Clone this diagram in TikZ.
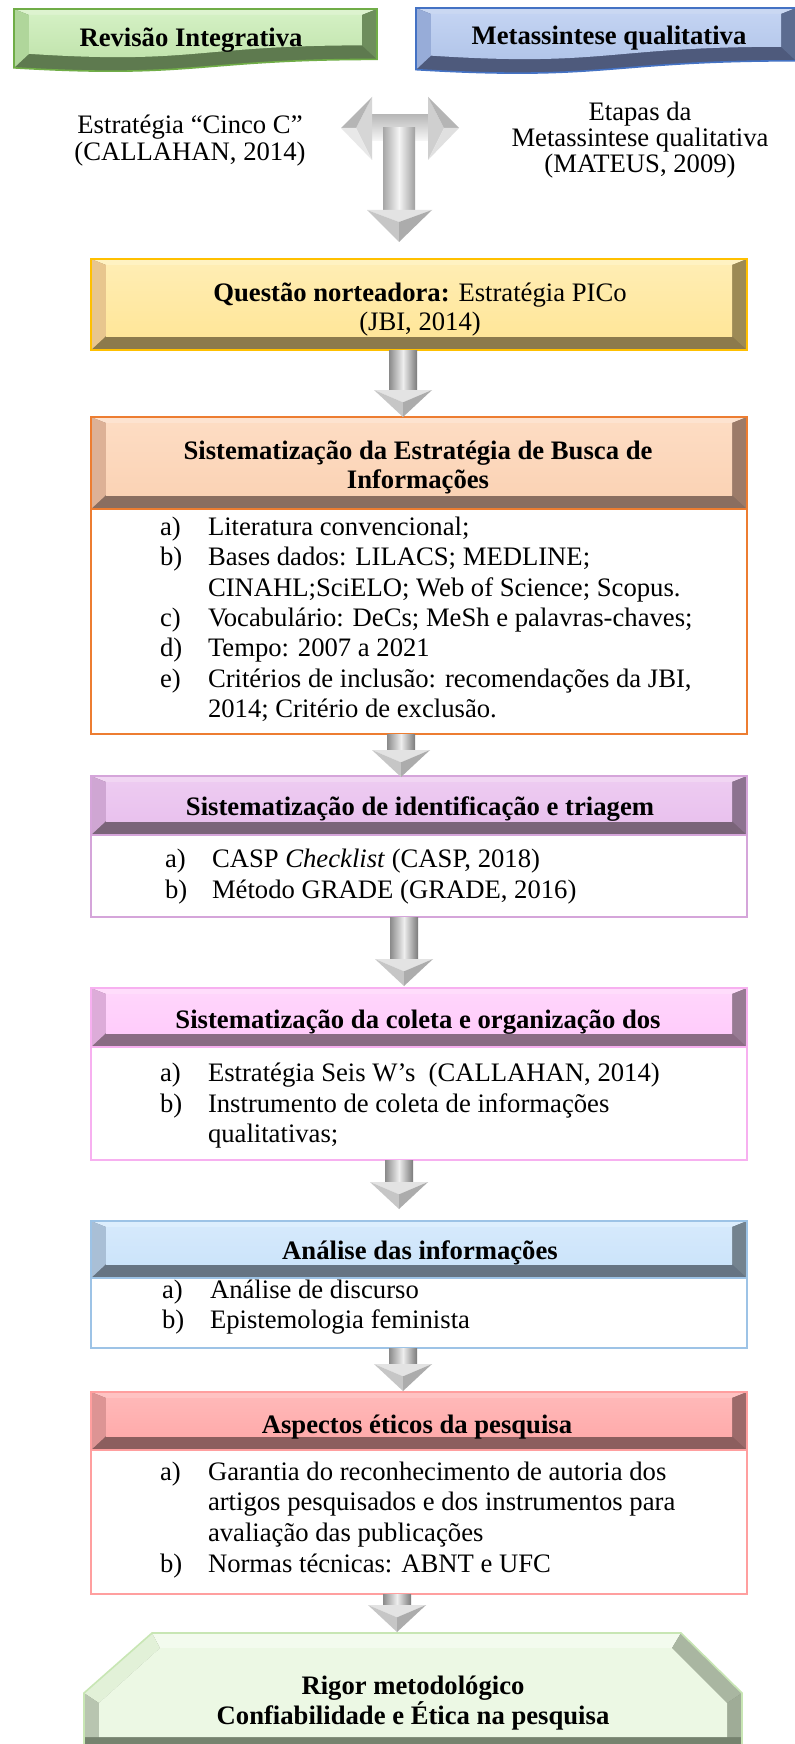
\documentclass[tikz,border=0pt]{standalone}
\usepackage{fontspec}
\setmainfont{Liberation Serif}
\usetikzlibrary{calc,fit}

\definecolor{gTface}{HTML}{BFE2AA}\definecolor{gThi}{HTML}{D3F0C3}\definecolor{gTtop}{HTML}{DDF3CF}
\definecolor{gTlt}{HTML}{B0D69B}\definecolor{gTrt}{HTML}{6E8E5D}\definecolor{gTbot}{HTML}{5E7A4F}\definecolor{gTbrd}{HTML}{70AD47}
\definecolor{bTface}{HTML}{AFC3E8}\definecolor{bThi}{HTML}{C3D3F2}\definecolor{bTtop}{HTML}{CAD8F2}
\definecolor{bTlt}{HTML}{97ACD8}\definecolor{bTrt}{HTML}{5C6C90}\definecolor{bTbot}{HTML}{4E5A7C}\definecolor{bTbrd}{HTML}{4472C4}
\definecolor{ylface}{HTML}{FFE699}\definecolor{ylhi}{HTML}{FFEDB3}\definecolor{yltop}{HTML}{FFF2C2}
\definecolor{yllt}{HTML}{E8C68E}\definecolor{ylrt}{HTML}{9C8A55}\definecolor{ylbot}{HTML}{8C7A4C}\definecolor{ylbrd}{HTML}{FFC000}
\definecolor{orface}{HTML}{FBD3B5}\definecolor{orhi}{HTML}{FDDCC3}\definecolor{ortop}{HTML}{FDE3D0}
\definecolor{orlt}{HTML}{DDB196}\definecolor{orrt}{HTML}{9C7B69}\definecolor{orbot}{HTML}{8A6E60}\definecolor{orbrd}{HTML}{ED7D31}
\definecolor{puface}{HTML}{E9C1EE}\definecolor{puhi}{HTML}{EDCBF1}\definecolor{putop}{HTML}{F1D6F3}
\definecolor{pult}{HTML}{CFA6D3}\definecolor{purt}{HTML}{8D7390}\definecolor{pubot}{HTML}{7A6479}\definecolor{pubrd}{HTML}{D5A5DA}
\definecolor{pkface}{HTML}{FFCCFB}\definecolor{pkhi}{HTML}{FFD5FB}\definecolor{pktop}{HTML}{FFDDFB}
\definecolor{pklt}{HTML}{DDACD9}\definecolor{pkrt}{HTML}{977B93}\definecolor{pkbot}{HTML}{8A6C84}\definecolor{pkbrd}{HTML}{F7B0F0}
\definecolor{blface}{HTML}{CCE4FA}\definecolor{blhi}{HTML}{D5E9FC}\definecolor{bltop}{HTML}{DDEEFD}
\definecolor{bllt}{HTML}{A9BFD6}\definecolor{blrt}{HTML}{74838F}\definecolor{blbot}{HTML}{667483}\definecolor{blbrd}{HTML}{9DC3E6}
\definecolor{rdface}{HTML}{FFABAB}\definecolor{rdhi}{HTML}{FFB8B8}\definecolor{rdtop}{HTML}{FFC3C3}
\definecolor{rdlt}{HTML}{DD9494}\definecolor{rdrt}{HTML}{9C6A6A}\definecolor{rdbot}{HTML}{8C5E5E}\definecolor{rdbrd}{HTML}{FF9F9F}
\definecolor{fnface}{HTML}{ECF8E4}\definecolor{fntop}{HTML}{F3FBEE}\definecolor{fnls}{HTML}{E2F1D8}
\definecolor{fnlt}{HTML}{B8C5B0}\definecolor{fnrs}{HTML}{A9B6A1}\definecolor{fnrt}{HTML}{9FAC97}\definecolor{fnbot}{HTML}{76836F}\definecolor{fnbrd}{HTML}{C8E6B4}
\definecolor{arrdk}{HTML}{8A8A8A}\definecolor{arrlt}{HTML}{EEEEEE}\definecolor{arrdk2}{HTML}{7A7A7A}

\def\bvW{11.25pt}\def\bvT{4.5pt}\def\bvH{10.5pt}

\newcommand\bevelbox[2]{%
 \fill[#2bot] (#1.north west) rectangle (#1.south east);
 \fill[#2top] let \p1=(#1.north west),\p2=(#1.south east) in
   (\x1,\y1)--(\x2,\y1)--(\x2-\bvW,\y1-\bvT)--(\x1+\bvW,\y1-\bvT)--cycle;
 \fill[#2lt] let \p1=(#1.north west),\p2=(#1.south east) in
   (\x1,\y1)--(\x1+\bvW,\y1-\bvT)--(\x1+\bvW,\y2+\bvH)--(\x1,\y2)--cycle;
 \fill[#2rt] let \p1=(#1.north west),\p2=(#1.south east) in
   (\x2,\y1)--(\x2-\bvW,\y1-\bvT)--(\x2-\bvW,\y2+\bvH)--(\x2,\y2)--cycle;
 \shade[top color=#2hi, bottom color=#2face] let \p1=(#1.north west),\p2=(#1.south east) in
   (\x1+\bvW,\y1-\bvT) rectangle (\x2-\bvW,\y2+\bvH);
 \draw[#2brd, line width=1.2pt] (#1.north west) rectangle (#1.south east);
}

% document-shaped bevel box (wavy bottom), numbers in px: x1,y1,x2,H,colour prefix
\newcommand\docbox[5]{%
 \fill[#5bot] (#1,#2) -- (#3,#2) -- (#3,{#2+0.80*#4})
   .. controls ({(#1+#3)/2},{#2+0.80*#4}) and ({(#1+#3)/2},{#2+1.107*#4}) .. (#1,{#2+0.934*#4}) -- cycle;
 \fill[#5top] (#1,#2) -- (#3,#2) -- ({#3-15},{#2+6}) -- ({#1+15},{#2+6}) -- cycle;
 \fill[#5lt] (#1,#2) -- ({#1+15},{#2+6}) -- ({#1+15},{#2+0.934*#4-14}) -- (#1,{#2+0.934*#4}) -- cycle;
 \fill[#5rt] (#3,#2) -- ({#3-15},{#2+6}) -- ({#3-15},{#2+0.80*#4-14}) -- (#3,{#2+0.80*#4}) -- cycle;
 \shade[top color=#5hi, bottom color=#5face] ({#1+15},{#2+6}) -- ({#3-15},{#2+6}) -- ({#3-15},{#2+0.80*#4-14})
   .. controls ({(#1+#3)/2},{#2+0.80*#4-14}) and ({(#1+#3)/2},{#2+1.107*#4-14}) .. ({#1+15},{#2+0.934*#4-14}) -- cycle;
 \draw[#5brd, line width=1.2pt] (#1,#2) -- (#3,#2) -- (#3,{#2+0.80*#4})
   .. controls ({(#1+#3)/2},{#2+0.80*#4}) and ({(#1+#3)/2},{#2+1.107*#4}) .. (#1,{#2+0.934*#4}) -- cycle;
}

\newcommand\listbox[2]{%
 \draw[#2, line width=1.3pt, fill=white] (#1.north west) rectangle (#1.south east);
}

\newcommand\blockarrow[2]{%
 \shade[left color=arrdk, right color=arrdk2, middle color=arrlt] let \p1=(#1),\p2=(#2) in
   (\x1-10.5pt,\y1) rectangle (\x1+10.5pt,\y2+20.25pt);
 \fill[gray!22] let \p1=(#1),\p2=(#2) in
   (\x1-21.75pt,\y2+20.25pt) -- (\x1+21.75pt,\y2+20.25pt) -- (\x1,\y2+11pt) -- cycle;
 \fill[gray!45] let \p1=(#1),\p2=(#2) in
   (\x1-21.75pt,\y2+20.25pt) -- (\x1,\y2+11pt) -- (\x1,\y2) -- cycle;
 \fill[gray!65] let \p1=(#1),\p2=(#2) in
   (\x1+21.75pt,\y2+20.25pt) -- (\x1,\y2+11pt) -- (\x1,\y2) -- cycle;
}

\begin{document}
\begin{tikzpicture}[x=0.75pt,y=-0.75pt,
  txt/.style={font=\fontsize{20}{24}\selectfont, inner sep=0pt, outer sep=0pt, anchor=base},
  btxt/.style={txt, font=\fontsize{20}{24}\selectfont\bfseries},
  ltxt/.style={txt, anchor=base west},
  box/.style={inner sep=0pt, outer sep=0pt, draw=none}]
\useasboundingbox (0,0) rectangle (794,1744);
\fill[white] (0,0) rectangle (794,1744);

% ---------- box frames ----------
\node[box, fit={(14,9) (377,72)}] (rev) {};
\node[box, fit={(416,8) (796,74)}] (meta) {};
\node[box, fit={(91,259) (747,350)}] (yel) {};
\node[box, fit={(91,417) (747,509)}] (orh) {};
\node[box, fit={(91,509) (747,734)}] (orl) {};
\node[box, fit={(91,776) (747,835)}] (puh) {};
\node[box, fit={(91,835) (747,917)}] (pul) {};
\node[box, fit={(91,988) (747,1047)}] (pkh) {};
\node[box, fit={(91,1047) (747,1160)}] (pkl) {};
\node[box, fit={(91,1221) (747,1278)}] (blh) {};
\node[box, fit={(91,1278) (747,1348)}] (bll) {};
\node[box, fit={(91,1392) (747,1450)}] (rdh) {};
\node[box, fit={(91,1450) (747,1594)}] (rdl) {};
\node[box, fit={(84,1632) (742,1744)}] (fin) {};

\docbox{14}{9}{377}{63}{gT}
\docbox{416}{8}{796}{66}{bT}
\bevelbox{yel}{yl}
\listbox{orl}{orbrd}\bevelbox{orh}{or}
\listbox{pul}{pubrd}\bevelbox{puh}{pu}
\listbox{pkl}{pkbrd}\bevelbox{pkh}{pk}
\listbox{bll}{blbrd}\bevelbox{blh}{bl}
\listbox{rdl}{rdbrd}\bevelbox{rdh}{rd}

% ---------- final plaque ----------
\fill[fnbot] (152,1633) -- (681,1633) -- (742,1693) -- (742,1760) -- (84,1760) -- (84,1693) -- cycle;
\fill[fntop] (152,1633) -- (681,1633) -- (672,1648) -- (160,1648) -- cycle;
\fill[fnrs] (681,1633) -- (742,1693) -- (727,1703) -- (672,1648) -- cycle;
\fill[fnrt] (742,1693) -- (742,1737) -- (727,1737) -- (727,1703) -- cycle;
\fill[fnls] (152,1633) -- (160,1648) -- (99,1703) -- (84,1693) -- cycle;
\fill[fnlt] (84,1693) -- (99,1703) -- (99,1737) -- (84,1737) -- cycle;
\fill[fnface] (160,1648) -- (672,1648) -- (727,1703) -- (727,1737) -- (99,1737) -- (99,1703) -- cycle;
\draw[fnbrd, line width=1.2pt] (84,1760) -- (84,1693) -- (152,1633) -- (681,1633) -- (742,1693) -- (742,1760);

% ---------- T arrow ----------
\shade[top color=gray!55, bottom color=gray!6] (370,115) rectangle (430,141);
\fill[gray!32] (372,97) -- (372,160) -- (356,128) -- cycle;
\fill[gray!58] (341,128) -- (372,97) -- (356,128) -- cycle;
\fill[gray!18] (341,128) -- (372,160) -- (356,128) -- cycle;
\fill[gray!38] (428,97) -- (428,160) -- (444,128) -- cycle;
\fill[gray!58] (459,128) -- (428,97) -- (444,128) -- cycle;
\fill[gray!24] (459,128) -- (428,160) -- (444,128) -- cycle;
\shade[left color=gray!70, right color=gray!75, middle color=gray!8] (383,128) rectangle (415,210);
\fill[gray!22] (367,210) -- (432,210) -- (399,222) -- cycle;
\fill[gray!45] (367,210) -- (399,222) -- (399,242) -- cycle;
\fill[gray!65] (432,210) -- (399,222) -- (399,242) -- cycle;

% ---------- block arrows ----------
\coordinate (a1) at (403,417);
\coordinate (a2) at (401,777);
\coordinate (a3) at (404,986);
\coordinate (a4) at (399,1209);
\coordinate (a5) at (403,1391);
\coordinate (a6) at (397,1632);
\blockarrow{a1 |- yel.south}{a1}
\blockarrow{a2 |- orl.south}{a2}
\blockarrow{a3 |- pul.south}{a3}
\blockarrow{a4 |- pkl.south}{a4}
\blockarrow{a5 |- bll.south}{a5}
\blockarrow{a6 |- rdl.south}{a6}

% ---------- texts ----------
\node[btxt] (trev) at (191,47) {Revisão Integrativa};
\node[btxt] (tmeta) at (609,45) {Metassintese qualitativa};
\node[txt] (tl1) at (190,134) {Estratégia “Cinco C”};
\node[txt] (tl2) at (190,161) {(CALLAHAN, 2014)};
\node[txt] (tr1) at (640,121) {Etapas da};
\node[txt] (tr2) at (640,147) {Metassintese qualitativa};
\node[txt] (tr3) at (640,173) {(MATEUS, 2009)};

\node[txt] (ty1) at (420,301) {\textbf{Questão norteadora:} Estratégia PICo};
\node[txt] (ty2) at (420,330) {(JBI, 2014)};

\node[btxt] (to1) at (418,459) {Sistematização da Estratégia de Busca de};
\node[btxt] (to2) at (418,488) {Informações};
\node[ltxt] (ola) at (160,535) {a)};
\node[ltxt] (otA) at (208,535) {Literatura convencional;};
\node[ltxt] (olb) at (160,565) {b)};
\node[ltxt] (otB) at (208,565) {Bases dados: LILACS; MEDLINE;};
\node[ltxt] (otB2) at (208,596) {CINAHL;SciELO; Web of Science; Scopus.};
\node[ltxt] (olc) at (160,626) {c)};
\node[ltxt] (otC) at (208,626) {Vocabulário: DeCs; MeSh e palavras-chaves;};
\node[ltxt] (old) at (160,656) {d)};
\node[ltxt] (otD) at (208,656) {Tempo: 2007 a 2021};
\node[ltxt] (ole) at (160,687) {e)};
\node[ltxt] (otE) at (208,687) {Critérios de inclusão: recomendações da JBI,};
\node[ltxt] (otE2) at (208,717) {2014; Critério de exclusão.};

\node[btxt] (tp) at (420,815) {Sistematização de identificação e triagem};
\node[ltxt] (pla) at (165,867) {a)};
\node[ltxt] (ptA) at (212,867) {CASP \textit{Checklist} (CASP, 2018)};
\node[ltxt] (plb) at (165,898) {b)};
\node[ltxt] (ptB) at (212,898) {Método GRADE (GRADE, 2016)};

\node[btxt] (tk) at (418,1028) {Sistematização da coleta e organização dos};
\node[ltxt] (kla) at (160,1081) {a)};
\node[ltxt] (ktA) at (208,1081) {Estratégia Seis W’s~ (CALLAHAN, 2014)};
\node[ltxt] (klb) at (160,1112) {b)};
\node[ltxt] (ktB) at (208,1112) {Instrumento de coleta de informações};
\node[ltxt] (ktB2) at (208,1142) {qualitativas;};

\node[btxt] (tb) at (420,1259) {Análise das informações};
\node[ltxt] (bla) at (162,1298) {a)};
\node[ltxt] (btA) at (210,1298) {Análise de discurso};
\node[ltxt] (blb) at (162,1328) {b)};
\node[ltxt] (btB) at (210,1328) {Epistemologia feminista};

\node[btxt] (tr) at (417,1433) {Aspectos éticos da pesquisa};
\node[ltxt] (rla) at (160,1480) {a)};
\node[ltxt] (rtA) at (208,1480) {Garantia do reconhecimento de autoria dos};
\node[ltxt] (rtA2) at (208,1510) {artigos pesquisados e dos instrumentos para};
\node[ltxt] (rtA3) at (208,1541) {avaliação das publicações};
\node[ltxt] (rlb) at (160,1572) {b)};
\node[ltxt] (rtB) at (208,1572) {Normas técnicas: ABNT e UFC};

\node[btxt] (tf1) at (413,1694) {Rigor metodológico};
\node[btxt] (tf2) at (413,1724) {Confiabilidade e Ética na pesquisa};
\end{tikzpicture}
\end{document}
